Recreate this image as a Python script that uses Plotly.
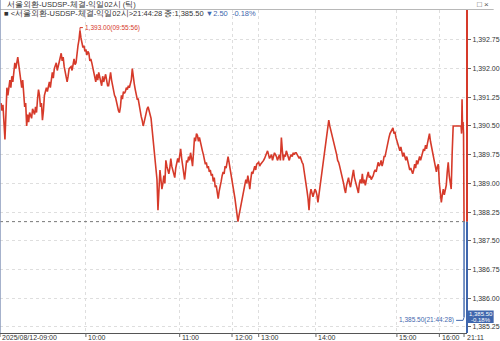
import plotly.graph_objects as go

# ---------------- data ----------------
tick_seq = [1,2,3,4,5,6,7,8,10,11,12,13,15,16,17,18,19,20,22,23,24,25,26,27,28,29,30,32,33,35,36,37,38,39,40,41,42,43,44,45,47,48,50,51,53,54,55,57,58,60,62,63,64,65,66,68,69,70,72,73,75,76,77,78,79,80,81,82,83,84,85,86,87,88,89,90,91,92,93,94,95,96,97,98,99,100,101,102,103,104,105,107,108,109,110,111,112,113,114,115,116,117,118,119,120,121,122,123,124,125,126,127,128,129,130,131,132,133,134,135,136,137,138,139,140,141,142,143,144,145,146,147,148,149,150,151,152,153,154,155,156,157,158,159,160,161,162,163,164,165,166,167,168,169,170,171,172,173,174,175,176,177,178,179,180,181,182,183,184,185,186,187,188,189,190,191,192,193,194,195,196,197,198,199,200,201,202,203,204,205,206,207,208,209,210,211,212,213,214,215,216,217,218,219,220,221,222,223,224,225,226,227,228,229,230,231,232,233,234,235,236,237,238,239,240,241,242,243,244,245,246,247,248,249,250,251,252,253,254,255,256,257,258,259,260,262,263,264,266,267,268,270,271,272,273,274,275,276,277,278,279,280,281,282,283,284,285,286,287,288,289,290,291,292,293,294,295,296,297,298,299,300,301,302,303,304,305,306,307,308,309,310,311,312,313,314,315,316,317,318,319,320,321,322,323,324,325,326,327,328,329,330,331,332,333,334,335,336,337,338,339,340,341,342,343,344,345,346,347,348,349,350,351,352,353,354,355,356,357,358,359,360,361,362,363,364,365,366,367,368,369,370,371,372,373,374,375,376,377,378,379,380,381,382,383,384,385,386,387,388,389,390,391,392,393,394,395,396,397,398,399,400,401,402,403,404,405,406,407,408,409,410,411,412,413,414,415,416,417,418,419,420,421,422,423,424,425,426,427,428,429,430,431,432,433,434,435,436,437,438,439,440,441,442,443,444,445,446,447,448,449,450,451,452,453,454,455,456,457,458,459,467,467.5,468,468.5,469,469.5,470]
price = [1391.1,1390.9,1391.05,1390.5,1390.15,1390.8,1391.5,1391.3,1391.7,1391.5,1391.8,1391.65,1392.15,1392.0,1392.2,1392.3,1392.1,1391.9,1391.5,1391.7,1391.2,1391.0,1391.1,1390.5,1390.8,1390.6,1390.85,1390.7,1390.95,1390.8,1391.0,1390.85,1391.2,1391.45,1391.3,1391.0,1391.1,1390.65,1390.9,1391.3,1391.5,1391.4,1391.65,1391.5,1391.9,1391.75,1392.0,1392.15,1391.95,1392.2,1392.4,1392.2,1392.3,1392.05,1391.9,1391.65,1391.8,1392.0,1392.05,1391.95,1392.25,1392.1,1392.15,1392.45,1392.6,1392.75,1393.0,1392.8,1392.65,1392.55,1392.6,1392.45,1392.5,1392.35,1392.45,1392.4,1392.2,1392.25,1392.15,1392.0,1391.95,1391.75,1391.65,1391.85,1391.7,1391.9,1391.75,1391.6,1391.55,1391.8,1391.65,1391.85,1391.7,1391.55,1391.55,1391.7,1391.9,1391.7,1391.55,1391.4,1391.3,1391.25,1391.1,1391.0,1390.9,1390.85,1391.0,1391.3,1391.2,1391.4,1391.35,1391.4,1391.5,1391.45,1391.55,1391.5,1391.6,1391.7,1392.0,1391.75,1391.6,1391.45,1391.35,1391.2,1391.2,1391.0,1390.85,1390.75,1390.65,1390.5,1390.6,1390.75,1390.85,1390.95,1391.0,1390.85,1390.8,1390.7,1390.4,1390.15,1389.9,1389.6,1389.35,1389.1,1388.3,1388.9,1389.35,1389.1,1388.85,1389.0,1389.2,1389.0,1389.6,1389.45,1389.3,1389.25,1389.4,1389.65,1389.45,1389.35,1389.25,1389.15,1389.4,1389.5,1389.65,1389.55,1389.8,1389.9,1389.65,1389.45,1389.3,1389.1,1389.35,1389.6,1389.55,1389.7,1389.6,1389.8,1389.65,1389.45,1389.8,1390.2,1390.1,1390.3,1390.25,1390.1,1390.2,1390.05,1389.95,1389.85,1389.75,1389.6,1389.5,1389.55,1389.4,1389.45,1389.3,1389.35,1389.2,1389.25,1389.05,1389.15,1388.9,1388.95,1388.75,1388.6,1388.8,1388.9,1389.05,1389.2,1389.3,1389.25,1389.45,1389.4,1389.6,1389.7,1389.55,1389.4,1389.3,1389.05,1388.9,1388.75,1388.6,1388.4,1388.2,1388.0,1388.15,1388.3,1388.45,1388.55,1388.7,1388.85,1388.95,1389.1,1389.0,1389.2,1389.05,1388.85,1389.1,1389.3,1389.25,1389.4,1389.45,1389.35,1389.5,1389.55,1389.45,1389.5,1389.55,1389.6,1389.65,1389.8,1389.85,1389.75,1389.65,1389.7,1389.75,1389.6,1389.7,1389.8,1389.75,1389.7,1389.6,1389.7,1389.75,1389.6,1390.2,1389.85,1389.6,1389.75,1389.7,1389.85,1389.75,1389.65,1389.6,1389.7,1389.75,1389.7,1389.8,1389.75,1389.8,1389.8,1389.75,1389.7,1389.65,1389.7,1389.6,1389.55,1389.5,1389.35,1389.2,1389.05,1388.8,1388.6,1388.3,1388.7,1388.85,1388.75,1388.65,1388.75,1388.85,1388.8,1388.7,1388.5,1388.7,1388.9,1389.05,1389.3,1389.5,1389.6,1389.85,1390.05,1390.3,1390.55,1390.65,1390.5,1390.4,1390.3,1390.15,1390.1,1390.0,1389.9,1389.75,1389.6,1389.55,1389.45,1389.35,1389.2,1389.1,1389.0,1388.85,1388.75,1388.95,1389.1,1389.15,1389.0,1388.9,1389.05,1389.25,1389.35,1389.15,1389.05,1388.9,1388.8,1388.75,1389.0,1389.1,1389.0,1389.25,1389.0,1389.1,1388.95,1389.15,1389.2,1389.3,1389.15,1389.2,1389.1,1389.15,1389.2,1389.3,1389.35,1389.3,1389.45,1389.55,1389.45,1389.5,1389.6,1389.45,1389.55,1389.7,1389.7,1389.85,1390.0,1390.1,1390.2,1390.3,1390.35,1390.4,1390.45,1390.3,1390.35,1390.2,1390.1,1390.05,1389.9,1389.85,1389.95,1389.75,1389.7,1389.8,1389.65,1389.6,1389.7,1389.55,1389.45,1389.35,1389.4,1389.3,1389.25,1389.35,1389.5,1389.4,1389.6,1389.5,1389.65,1389.7,1389.6,1389.75,1389.8,1389.9,1389.85,1390.0,1389.9,1390.05,1390.15,1390.3,1390.1,1389.95,1389.85,1389.7,1389.5,1389.35,1389.3,1389.45,1389.5,1389.0,1388.8,1388.5,1388.7,1388.85,1388.7,1388.8,1388.95,1389.3,1389.55,1389.2,1389.0,1388.85,1389.8,1390.5,1390.5,1390.3,1391.2,1390.4,1390.6,1390.3,1388.0]
drop_seq = [470, 470]
drop_price = [1388.0, 1385.5]

prev_close = 1388.00
last_price = 1385.50
high_price = 1393.00
high_seq = 81

x_tick_pos = [0, 87, 182, 235, 262, 320, 402, 445, 470]
x_tick_text = ["2025/08/12-09:00", "10:00", "11:00", "12:00", "13:00", "14:00", "15:00", "16:00", "21:11"]
y_tick_vals = [1385.25, 1386.00, 1386.75, 1387.50, 1388.25, 1389.00, 1389.75, 1390.50, 1391.25, 1392.00, 1392.75]
y_tick_text = ["1,385.25", "1,386.00", "1,386.75", "1,387.50", "1,388.25", "1,389.00",
               "1,389.75", "1,390.50", "1,391.25", "1,392.00", "1,392.75"]

title_text = "서울외환-USDSP-체결-익일02시 (틱)"
info_text = "■ <서울외환-USDSP-체결-익일02시>21:44:28 종:1,385.50 "
chg_text = "▼2.50  -0.18%"
last_box_lines = ["1,385.50", "-0.18%"]

RED = "#d63a2a"
BLUE = "#3f66ad"
FONT = "Liberation Sans Narrow, Liberation Sans, Arial Narrow, sans-serif"

W, H = 500, 341
ML, MR, MT, MB = 0, 27, 10, 8
PW, PH = W - ML - MR, H - MT - MB
X_RANGE = [0, 473]
Y_RANGE = [1385.09, 1393.53]


def py(ypix):
    return (H - MB - ypix) / PH


def pxp(xpix):
    return (xpix - ML) / PW


fig = go.Figure()
fig.add_trace(go.Scatter(x=tick_seq, y=price, mode="lines",
                         line=dict(color=RED, width=1.6), hoverinfo="skip", showlegend=False))
fig.add_trace(go.Scatter(x=drop_seq, y=drop_price, mode="lines",
                         line=dict(color=BLUE, width=1.4), hoverinfo="skip", showlegend=False))

shapes = []
# previous close dotted line
shapes.append(dict(type="line", xref="paper", x0=0, x1=1, yref="y", y0=prev_close, y1=prev_close,
                   line=dict(color="#777777", width=1, dash="dot")))
# right axis colored bar
shapes.append(dict(type="line", xref="paper", x0=1, x1=1, yref="y", y0=prev_close, y1=Y_RANGE[1],
                   line=dict(color=RED, width=2)))
shapes.append(dict(type="line", xref="paper", x0=1, x1=1, yref="y", y0=Y_RANGE[0], y1=prev_close,
                   line=dict(color=BLUE, width=2)))
# high marker leader
shapes.append(dict(type="line", xref="x", yref="y", x0=high_seq, x1=high_seq, y0=high_price, y1=high_price + 0.07,
                   line=dict(color=RED, width=1)))
shapes.append(dict(type="line", xref="x", yref="y", x0=high_seq, x1=high_seq + 3, y0=high_price + 0.07, y1=high_price + 0.07,
                   line=dict(color=RED, width=1)))
# last marker leader
shapes.append(dict(type="line", xref="x", yref="y", x0=462, x1=469, y0=last_price - 0.08, y1=last_price - 0.08,
                   line=dict(color=BLUE, width=1)))
shapes.append(dict(type="line", xref="x", yref="y", x0=469, x1=470, y0=last_price - 0.08, y1=last_price,
                   line=dict(color=BLUE, width=1)))
# last price box
shapes.append(dict(type="rect", xref="paper", yref="paper", x0=pxp(474), x1=pxp(500), y0=py(323), y1=py(310.5),
                   fillcolor=BLUE, line=dict(width=0), layer="above"))
# header separator and left border
shapes.append(dict(type="line", xref="paper", yref="paper", x0=0, x1=(W - ML) / PW, y0=py(9.5), y1=py(9.5),
                   line=dict(color="#b8b8b8", width=1)))
shapes.append(dict(type="line", xref="paper", yref="paper", x0=0, x1=0, y0=py(0), y1=0,
                   line=dict(color="#8899bb", width=1.5)))
# x tick marks
for xp in x_tick_pos:
    shapes.append(dict(type="line", xref="x", yref="paper", x0=xp, x1=xp, y0=0, y1=py(337),
                       line=dict(color="#666666", width=1)))

annotations = []
annotations.append(dict(xref="paper", yref="paper", x=pxp(5), y=py(4.5), xanchor="left", yanchor="middle",
                        text=title_text, showarrow=False, font=dict(family=FONT, size=7.5, color="#333333")))
annotations.append(dict(xref="paper", yref="paper", x=pxp(2), y=py(13.5), xanchor="left", yanchor="middle",
                        text=info_text + "<span style='color:%s'>%s</span>" % (BLUE, chg_text),
                        showarrow=False, font=dict(family=FONT, size=7.5, color="#333333")))
annotations.append(dict(xref="paper", yref="paper", x=pxp(497), y=py(4.5), xanchor="right", yanchor="middle",
                        text="□ ×", showarrow=False, font=dict(family=FONT, size=8, color="#555555")))
annotations.append(dict(xref="x", yref="y", x=high_seq + 3, y=high_price + 0.07, xanchor="left", yanchor="middle",
                        text="1,393.00(09:55:56)", showarrow=False, font=dict(family=FONT, size=6.5, color=RED)))
annotations.append(dict(xref="x", yref="y", x=462, y=last_price - 0.08, xanchor="right", yanchor="middle",
                        text="1,385.50(21:44:28)", showarrow=False, font=dict(family=FONT, size=6.5, color=BLUE)))
annotations.append(dict(xref="paper", yref="paper", x=pxp(487), y=py(313.5), xanchor="center", yanchor="middle",
                        text=last_box_lines[0], showarrow=False, borderpad=0,
                        font=dict(family=FONT, size=6, color="white")))
annotations.append(dict(xref="paper", yref="paper", x=pxp(487), y=py(320), xanchor="center", yanchor="middle",
                        text=last_box_lines[1], showarrow=False, borderpad=0,
                        font=dict(family=FONT, size=6, color="white")))
for xp, t in zip(x_tick_pos, x_tick_text):
    annotations.append(dict(xref="x", yref="paper", x=xp + 0.5, y=py(337.5), xanchor="left", yanchor="middle",
                            text=t, showarrow=False, font=dict(family=FONT, size=7, color="#333333")))

fig.update_layout(
    width=W, height=H,
    margin=dict(l=ML, r=MR, t=MT, b=MB, pad=0),
    paper_bgcolor="white", plot_bgcolor="white",
    shapes=shapes, annotations=annotations,
    showlegend=False,
    xaxis=dict(range=X_RANGE, showgrid=True, tickvals=x_tick_pos[1:-1], showticklabels=False,
               gridcolor="#dedede", griddash="dot", gridwidth=1, zeroline=False,
               showline=True, linecolor="#555555", linewidth=1, ticks="", fixedrange=True),
    yaxis=dict(range=Y_RANGE, side="right", tickvals=y_tick_vals, ticktext=y_tick_text,
               showgrid=True, gridcolor="#dedede", griddash="dot", gridwidth=1, zeroline=False,
               ticks="outside", ticklen=3, tickcolor="#666666", showline=False,
               tickfont=dict(family=FONT, size=7, color="#333333"), fixedrange=True),
)

fig.write_html("out.html")
